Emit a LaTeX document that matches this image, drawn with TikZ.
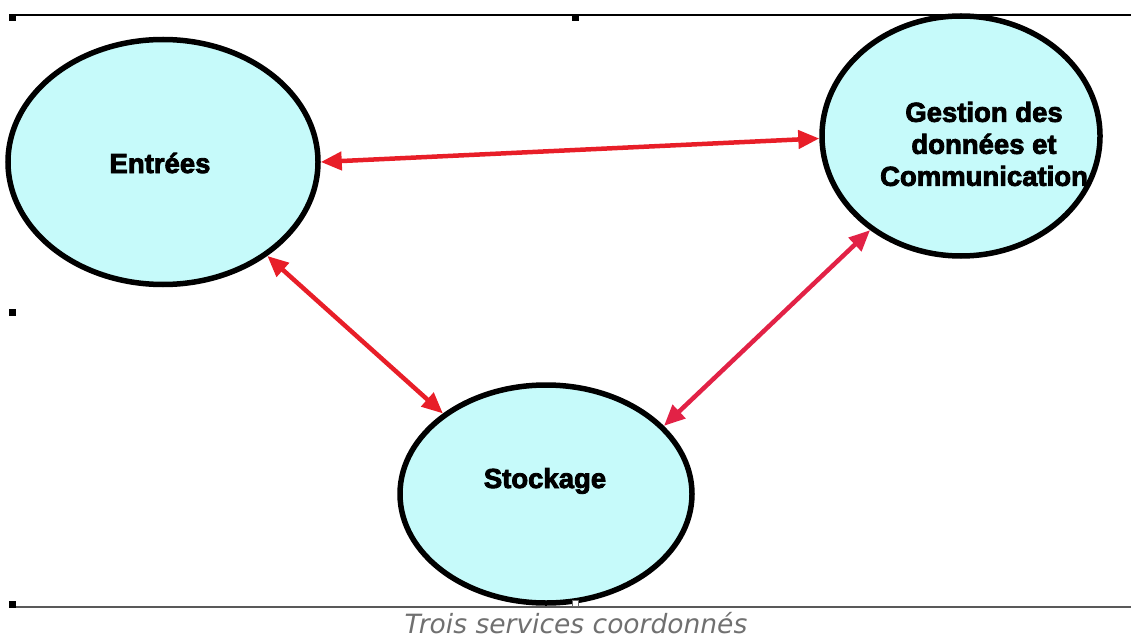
\documentclass[tikz,border=0pt]{standalone}
\usepackage{fontspec}
\setmainfont{Liberation Sans}
\newfontfamily\heavyfont{Liberation Sans}[BoldFeatures={FakeBold=3}]
\newfontfamily\capfont{DejaVu Sans}
\usetikzlibrary{shapes.geometric,arrows.meta}
\definecolor{bubble}{RGB}{198,250,250}
\definecolor{linkred}{RGB}{232,30,40}
\definecolor{linkrose}{RGB}{226,34,70}
\definecolor{capgray}{RGB}{112,112,112}
\tikzset{
  bubblenode/.style={ellipse, draw=black, line width=5.5pt, fill=bubble, inner sep=0pt},
  bubbletext/.style={font=\heavyfont\bfseries\fontsize{27.5}{32}\selectfont, align=center, inner sep=0pt},
  link/.style={line width=4.5pt, {Triangle[length=21pt,width=18pt]}-{Triangle[length=21pt,width=18pt]}},
  handle/.style={fill=black, minimum size=7pt, inner sep=0pt, draw=none}
}
\begin{document}
\begin{tikzpicture}[x=1pt,y=-1pt]
  \useasboundingbox (0,0) rectangle (1131,639);
  % frame of the drawing area
  \coordinate (tl) at (9,15.5);
  \coordinate (tr) at (1131,15.5);
  \coordinate (bl) at (9,607);
  \coordinate (br) at (1131,607);
  \draw[line width=2pt, black] (tl) -- (tr);
  \draw[line width=2pt, black!65] (bl) -- (br);
  % the three services
  \node[bubblenode, minimum width=310pt, minimum height=245pt] (E) at (163,162) {};
  \node[bubblenode, minimum width=278pt, minimum height=240pt] (G) at (961,136) {};
  \node[bubblenode, minimum width=292pt, minimum height=218pt] (S) at (546,494) {};
  \node[bubbletext, anchor=base] (Et) at (160,173) {Entrées};
  \node[bubbletext] (Gt) at (984,144) {Gestion des\\données et\\Communication};
  \node[bubbletext, anchor=base] (St) at (545,488) {Stockage};
  % exchanges between services
  \draw[link, linkred] (E.0) -- (G.181);
  \draw[link, linkred] (E.318) -- (S.142);
  \draw[link, linkrose] (G.226) -- (S.30);
  % selection handles
  \node[handle] (h1) at (12,18) {};
  \node[handle] (h2) at (575,18) {};
  \node[handle] (h3) at (12,312) {};
  \node[handle] (h4) at (12,604) {};
  \node[handle, fill=white, draw=black!60, line width=0.8pt, minimum size=6pt] (h5) at (575,603) {};
  % caption
  \node[font=\capfont\itshape\fontsize{26.5}{30}\selectfont, text=capgray, inner sep=0pt] (cap) at (576,623) {Trois services coordonnés};
\end{tikzpicture}
\end{document}
